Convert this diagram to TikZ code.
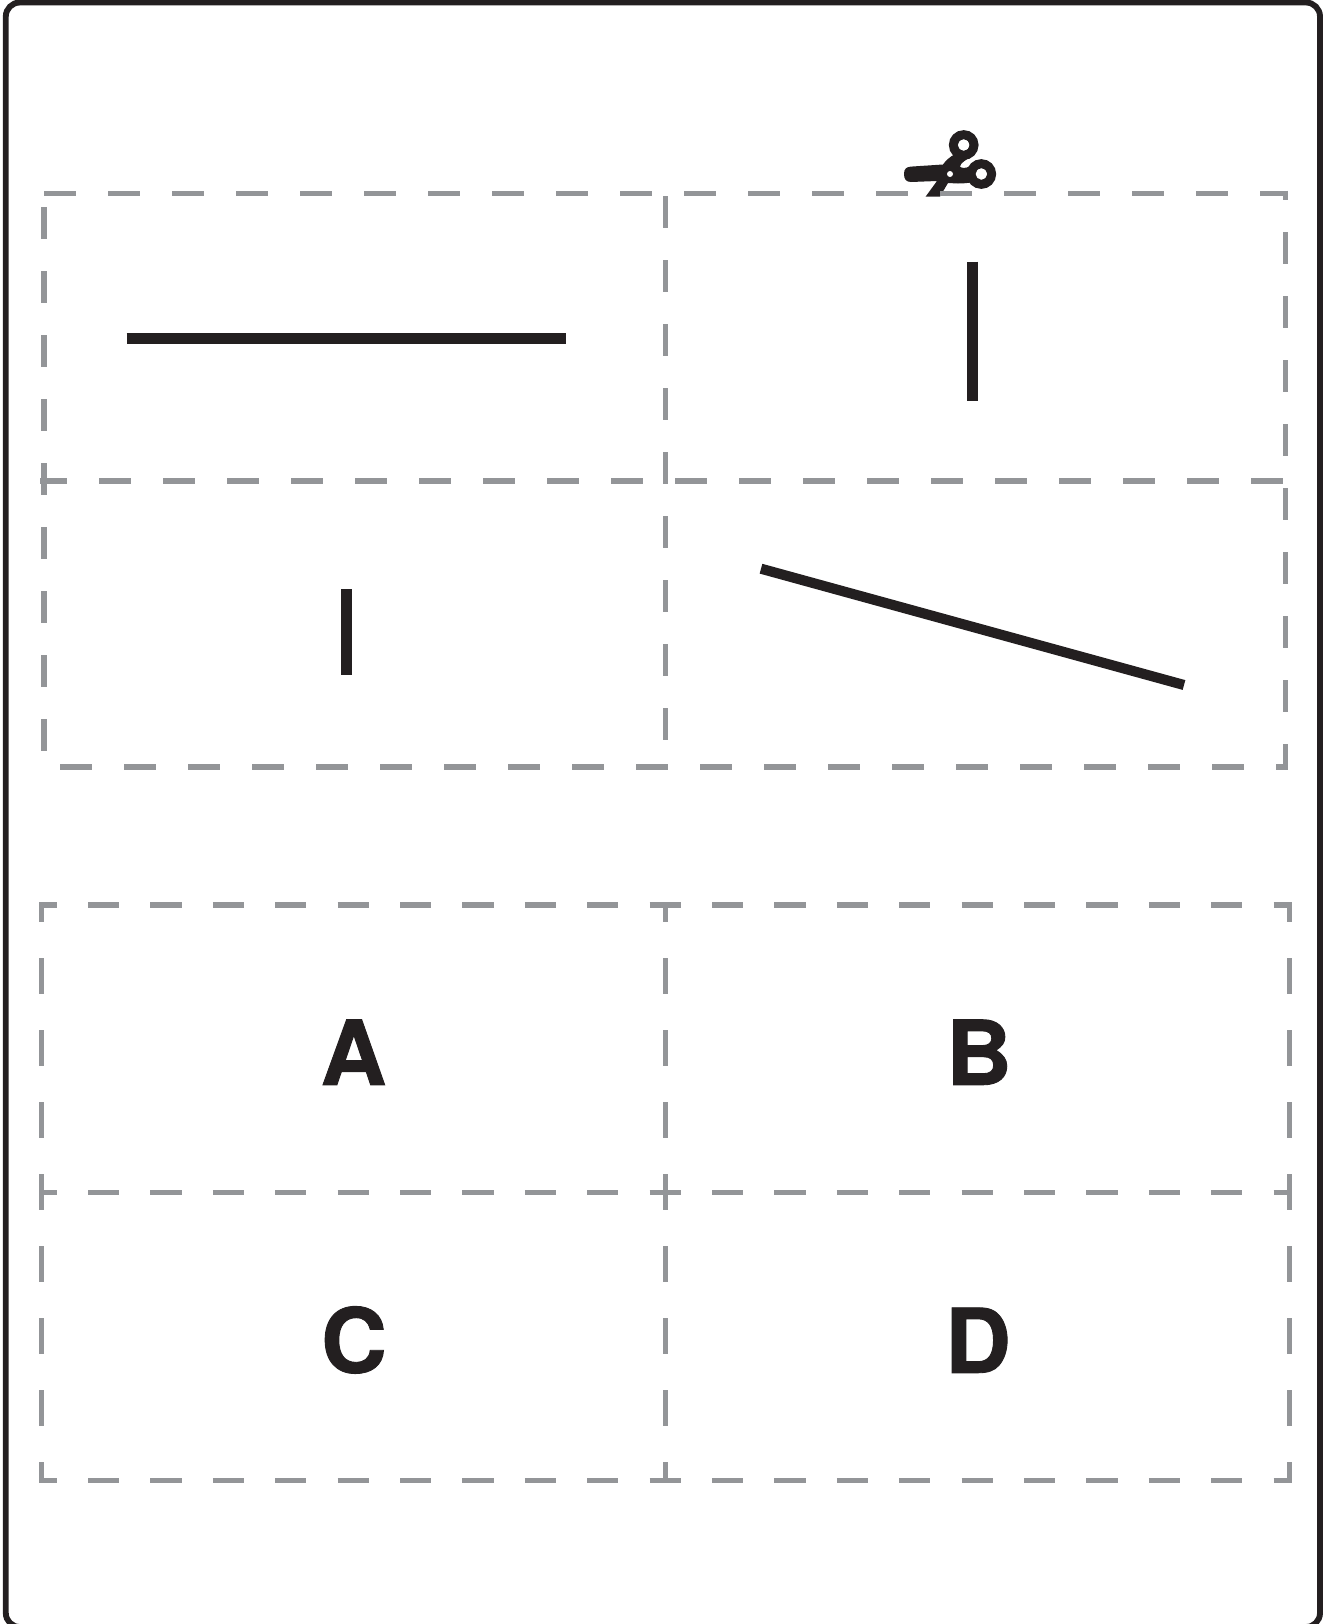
\documentclass[tikz,border=0pt]{standalone}
\usepackage{graphicx}
\usepackage{fontspec}
\setmainfont{TeX Gyre Heros}
\newfontfamily\letterfont[FakeBold=1]{TeX Gyre Heros Bold}
\definecolor{ink}{HTML}{231F20}
\definecolor{cutgray}{HTML}{939598}
\tikzset{
  frameline/.style={draw=ink,line width=4.4pt,rounded corners=10.5pt},
  cutline/.style={draw=cutgray,line width=4.1pt},
  cutupper/.style={cutline,dash pattern=on 24pt off 24pt},
  cuthoriz/.style={cutline,dash pattern=on 23.4pt off 23.4pt,dash phase=10.05pt},
  cutvert/.style={cutline,dash pattern=on 27pt off 27pt,dash phase=11.8pt},
  piece/.style={draw=ink,line width=8.2pt},
  thinpiece/.style={draw=ink,line width=7.6pt},
  letter/.style={font=\fontsize{67pt}{67pt}\letterfont,text=ink,inner sep=0pt,anchor=base},
}
\newcommand{\wideletter}[1]{\scalebox{1.02}[1]{#1}}
\begin{document}
\begin{tikzpicture}[x=0.75pt,y=-0.75pt]
\useasboundingbox (0,0) rectangle (1323,1624);
% outer frame
\draw[frameline] (5.8,2.5) rectangle (1320,1627);
% scissors
\fill[ink] (904,174) .. controls (904,169) and (906,167) .. (911,166.6)
  -- (943,164.5) .. controls (946,160) and (950,157) .. (955,154)
  -- (972,156) .. controls (966,160) and (960,163) .. (960,167)
  .. controls (964,169) and (969,168) .. (974,163)
  -- (982,178) .. controls (976,182) and (968,183.5) .. (958,183.5)
  -- (948,183) -- (940,196.5) -- (925.7,196.5) -- (937,181)
  -- (911,182) .. controls (906,182) and (904,179) .. (904,174) -- cycle;
\draw[ink,line width=6.9pt] (963.7,145) circle[radius=10.2];
\draw[ink,line width=6.9pt] (981.3,174) circle[radius=10.2];
\fill[white] (963.7,145) circle[radius=5.6];
\fill[white] (981.3,174) circle[radius=5.6];
\fill[white] (950,174) circle[radius=3];
% upper sheet of cut lines
\draw[cutupper] (44,193.5) -- (1288,193.5);
\draw[cutupper,dash phase=3.75pt] (40,481) -- (1283,481);
\draw[cutupper] (60,767) -- (1288,767);
\draw[cutupper] (44,207) -- (44,752);
\draw[cutupper] (665.3,196) -- (665.3,740);
\draw[cutupper,dash phase=16.875pt] (1285.5,190.5) -- (1285.5,770);
% strokes
\draw[piece] (126.6,338.7) -- (566.4,338.7);
\draw[piece] (972.3,261.5) -- (972.3,400.5);
\draw[piece] (346.5,589) -- (346.5,675);
\draw[thinpiece] (761,568.7) -- (1184,685);
% lower sheet of cut lines
\draw[cuthoriz] (39,904.8) -- (1292,904.8);
\draw[cuthoriz] (39,1192.5) -- (1292,1192.5);
\draw[cuthoriz] (39,1480.3) -- (1292,1480.3);
\draw[cutvert] (41.7,902.2) -- (41.7,1483);
\draw[cutvert] (665.7,902.2) -- (665.7,1483);
\draw[cutvert] (1289.7,902.2) -- (1289.7,1483);
% letters
\node[letter] (A) at (353.5,1084.8) {\wideletter{A}};
\node[letter] (B) at (979,1084.8) {\wideletter{B}};
\node[letter] (C) at (354,1372.5) {\wideletter{C}};
\node[letter] (D) at (978,1372.8) {\wideletter{D}};
\end{tikzpicture}
\end{document}
